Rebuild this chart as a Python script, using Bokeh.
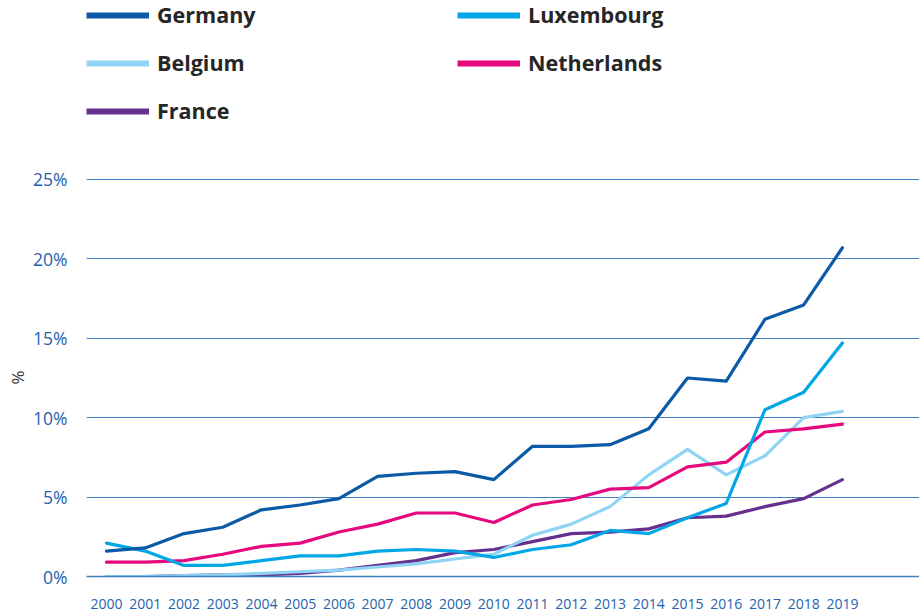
from bokeh.plotting import figure
from bokeh.models import (ColumnDataSource, Range1d, FixedTicker, PrintfTickFormatter,
                          Legend, LegendItem, Title, CDSView, IndexFilter)
from bokeh.embed import file_html
from bokeh.resources import INLINE

years = [2000, 2001, 2002, 2003, 2004, 2005, 2006, 2007, 2008, 2009,
         2010, 2011, 2012, 2013, 2014, 2015, 2016, 2017, 2018, 2019]
germany = [1.6, 1.8, 2.7, 3.1, 4.2, 4.5, 4.9, 6.3, 6.5, 6.6,
           6.1, 8.2, 8.2, 8.3, 9.3, 12.5, 12.3, 16.2, 17.1, 20.7]
luxembourg = [2.1, 1.6, 0.7, 0.7, 1.0, 1.3, 1.3, 1.6, 1.7, 1.6,
              1.2, 1.7, 2.0, 2.9, 2.7, 3.7, 4.6, 10.5, 11.6, 14.7]
belgium = [0.0, 0.0, 0.05, 0.1, 0.2, 0.3, 0.4, 0.6, 0.8, 1.1,
           1.4, 2.6, 3.3, 4.4, 6.4, 8.0, 6.4, 7.6, 10.0, 10.4]
netherlands = [0.9, 0.9, 1.0, 1.4, 1.9, 2.1, 2.8, 3.3, 4.0, 4.0,
               3.4, 4.5, 4.85, 5.5, 5.6, 6.9, 7.2, 9.1, 9.3, 9.6]
france = [0.0, 0.0, 0.05, 0.1, 0.1, 0.2, 0.4, 0.7, 1.0, 1.5,
          1.7, 2.2, 2.7, 2.8, 3.0, 3.7, 3.8, 4.4, 4.9, 6.1]
y_ticks = [0, 5, 10, 15, 20, 25]
y_label = "%"

colors = {
    "Germany": "#0b5aa6",
    "Luxembourg": "#00a6e6",
    "Belgium": "#8fd4f5",
    "Netherlands": "#e6087f",
    "France": "#66308f",
}
series = {
    "Germany": germany,
    "Luxembourg": luxembourg,
    "Belgium": belgium,
    "Netherlands": netherlands,
    "France": france,
}

TICK_BLUE = "#2462ad"
GRID_BLUE = "#3f7fc2"

# y range extends above 25% so that the legend sits inside the plot frame
p = figure(width=919, height=614, output_backend="svg", toolbar_location=None,
           x_range=Range1d(1999.484, 2020.99), y_range=Range1d(0, 36.27),
           min_border_left=86, min_border_right=0, min_border_top=0,
           min_border_bottom=38)
p.outline_line_color = None
p.background_fill_color = "white"
p.border_fill_color = "white"

sources = {name: ColumnDataSource(dict(x=years, y=series[name])) for name in series}

for name in ["France", "Belgium", "Netherlands", "Luxembourg", "Germany"]:
    p.line("x", "y", source=sources[name], line_color=colors[name], line_width=3.2,
           line_join="round", line_cap="round")

# legend-only renderers: thicker swatch; view keeps a single point so no line is drawn
legend_renderers = {}
for name in ["Germany", "Luxembourg", "Belgium", "Netherlands", "France"]:
    legend_renderers[name] = p.line("x", "y", source=sources[name],
                                     view=CDSView(filter=IndexFilter(indices=[0])),
                                     line_color=colors[name], line_width=6,
                                     line_cap="butt")

order = ["Germany", "Luxembourg", "Belgium", "Netherlands", "France"]
legend = Legend(items=[LegendItem(label=n, renderers=[legend_renderers[n]]) for n in order],
                ncols=2, location="top_left", orientation="horizontal",
                glyph_width=63, glyph_height=18, label_height=18, label_width=281,
                label_standoff=8, spacing=19, padding=6, margin=0,
                border_line_color=None, background_fill_alpha=0,
                label_text_font="Open Sans", label_text_font_style="bold",
                label_text_font_size="21.5px", label_text_color="#262626")
p.add_layout(legend, "center")

# axes
p.xaxis.ticker = FixedTicker(ticks=years)
p.xaxis.major_label_text_font = "Open Sans"
p.xaxis.major_label_text_font_size = "14px"
p.xaxis.major_label_text_color = TICK_BLUE
p.xaxis.major_tick_line_color = None
p.xaxis.minor_tick_line_color = None
p.xaxis.axis_line_color = GRID_BLUE
p.xaxis.axis_line_width = 1.5
p.xaxis.major_label_standoff = 16

p.yaxis.ticker = FixedTicker(ticks=y_ticks)
p.yaxis.formatter = PrintfTickFormatter(format="%d%%")
p.yaxis.major_label_text_font = "Open Sans"
p.yaxis.major_label_text_font_size = "17.5px"
p.yaxis.major_label_text_color = TICK_BLUE
p.yaxis.major_tick_line_color = None
p.yaxis.minor_tick_line_color = None
p.yaxis.axis_line_color = None
p.yaxis.major_label_standoff = 13

ytitle = Title(text=y_label, align="left", offset=192, standoff=4,
               text_font="Open Sans", text_font_style="normal",
               text_font_size="17px", text_color="#333333")
p.add_layout(ytitle, "left")

p.xgrid.grid_line_color = None
p.ygrid.ticker = FixedTicker(ticks=y_ticks)
p.ygrid.grid_line_color = GRID_BLUE
p.ygrid.grid_line_width = 1.2

open("out.html", "w").write(file_html(p, INLINE))
